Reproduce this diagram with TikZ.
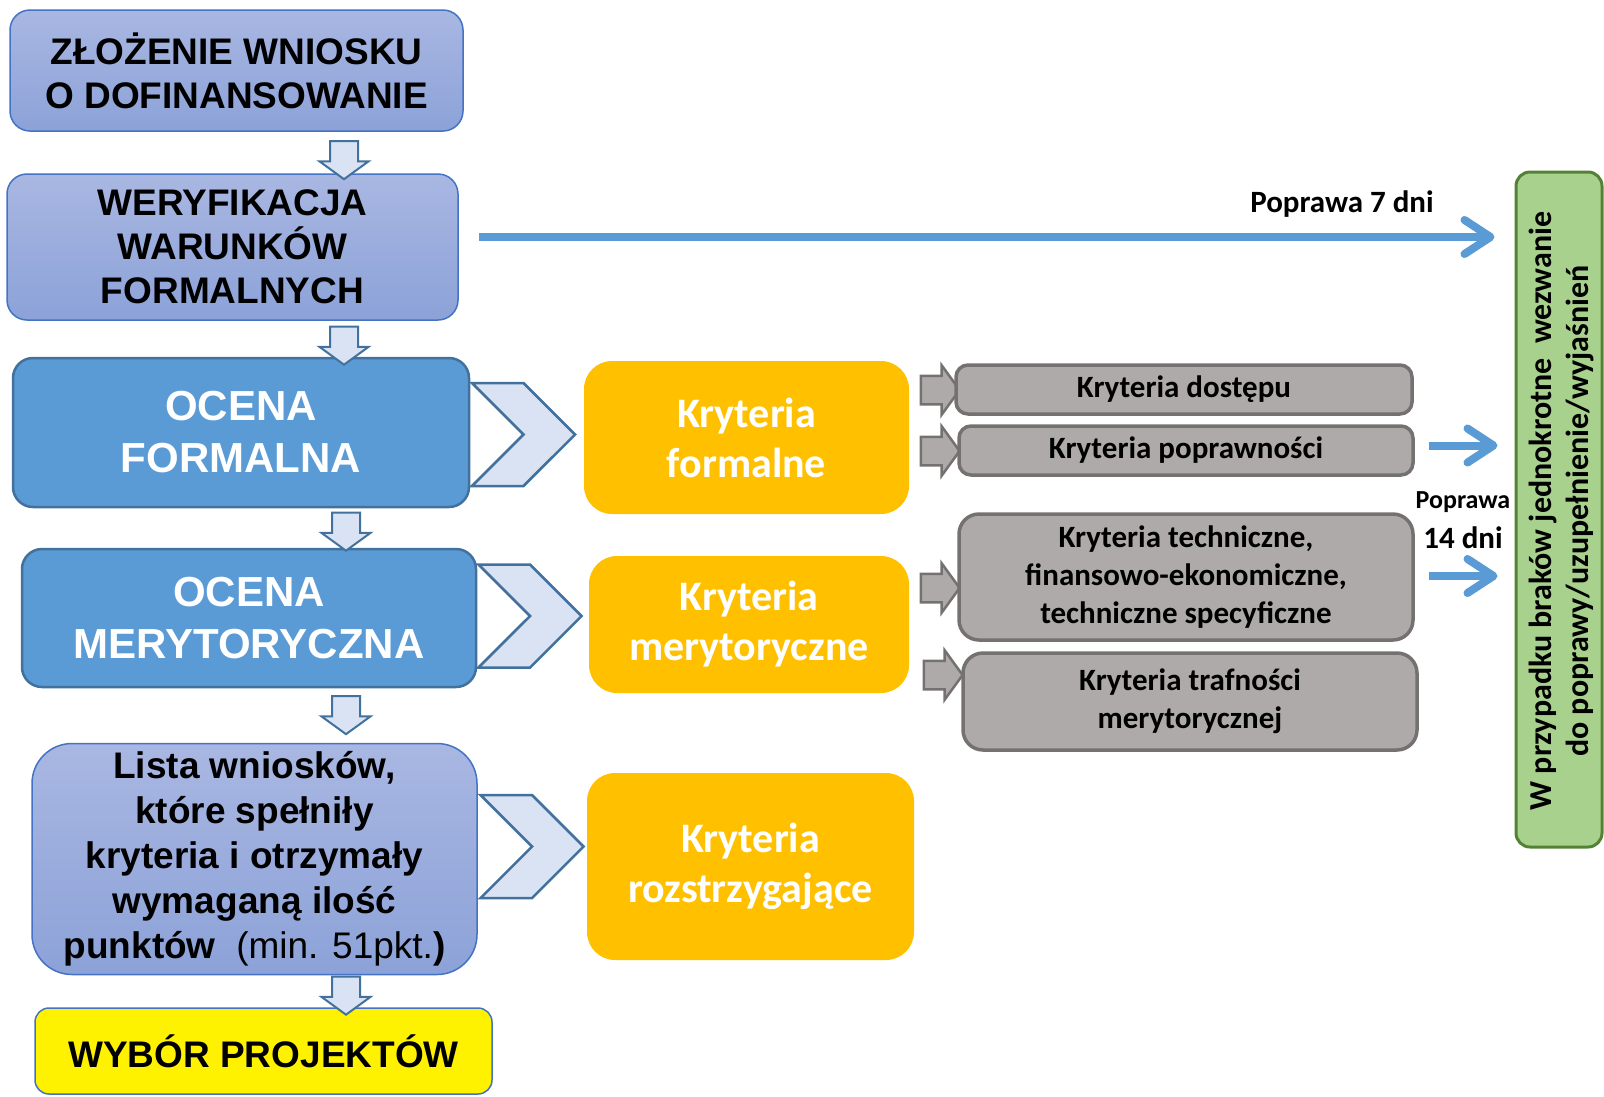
\documentclass[tikz,border=0pt]{standalone}
\usepackage{fontspec}
\setmainfont{Liberation Sans}
\newfontfamily\calfont{Carlito}
\usepackage{xcolor}
\usepackage{tikz}
\usetikzlibrary{arrows.meta}
\usetikzlibrary{calc}
\usetikzlibrary{shapes.arrows}
\usetikzlibrary{shapes.symbols}

\definecolor{lavtop}{HTML}{A9B7E2}
\definecolor{lavbot}{HTML}{8CA2D8}
\definecolor{lavedge}{HTML}{4472C4}
\definecolor{ocena}{HTML}{5B9BD5}
\definecolor{ocenaedge}{HTML}{41719C}
\definecolor{pale}{HTML}{DAE3F3}
\definecolor{krorange}{HTML}{FFC000}
\definecolor{krgray}{HTML}{AEAAAA}
\definecolor{krgrayedge}{HTML}{767171}
\definecolor{wezw}{HTML}{A9D18E}
\definecolor{wezwedge}{HTML}{548235}

\begin{document}
\begin{tikzpicture}[x=1pt,y=-1pt,
  etapbase/.style={rectangle,rounded corners=20pt,draw=lavedge,line width=1.5pt,
    align=center,inner sep=0pt,font=\fontsize{37}{44}\selectfont\bfseries},
  etap/.style={etapbase,top color=lavtop,bottom color=lavbot},
  ocenabox/.style={rectangle,rounded corners=20pt,draw=ocenaedge,line width=2.5pt,fill=ocena,text=white,
    align=center,inner sep=0pt,font=\fontsize{42}{52}\selectfont\bfseries},
  krbox/.style={rectangle,rounded corners=28pt,fill=krorange,text=white,align=center,inner sep=0pt,
    font=\calfont\fontsize{42}{50}\selectfont\bfseries},
  subbox/.style={rectangle,rounded corners=12pt,draw=krgrayedge,line width=3.5pt,fill=krgray,align=center,
    inner sep=0pt,font=\calfont\fontsize{31}{38}\selectfont\bfseries},
  downarr/.style={single arrow,shape border rotate=270,draw=ocenaedge,line width=2pt,fill=pale,inner sep=13pt,
    minimum width=0pt,minimum height=36pt,single arrow head extend=10.5pt,single arrow tip angle=108},
  grayarr/.style={single arrow,draw=krgrayedge,line width=2.5pt,fill=krgray,inner sep=13pt,
    minimum width=0pt,minimum height=35pt,single arrow head extend=10.5pt,single arrow tip angle=108},
  chevron/.style={signal,signal from=west,signal to=east,draw=ocenaedge,line width=2.5pt,fill=pale,
    inner sep=0pt,minimum width=103pt,minimum height=103pt},
  popr/.style={font=\calfont\fontsize{31}{38}\selectfont\bfseries,inner sep=0pt}]
  \useasboundingbox (0,0) rectangle (1604,1096);

  \node[etap,minimum width=453pt,minimum height=121pt] (zloz) at (236.5,70.5) {ZŁOŻENIE WNIOSKU\\O DOFINANSOWANIE};
  \node[etap,minimum width=451pt,minimum height=146pt] (wery) at (232.5,247) {WERYFIKACJA\\WARUNKÓW\\FORMALNYCH};
  \node[ocenabox,minimum width=456pt,minimum height=149pt] (ocfo) at (241,432.5) {OCENA\\FORMALNA};
  \node[ocenabox,minimum width=454pt,minimum height=138pt] (ocme) at (249,618) {OCENA\\MERYTORYCZNA};
  \node[etap,minimum width=445pt,minimum height=231pt,rounded corners=40pt,font=\fontsize{37}{45}\selectfont\bfseries] (lista) at (254.5,859)
    {Lista wniosków,\\które spełniły\\kryteria i otrzymały\\wymaganą ilość\\punktów\ \ {\mdseries(min. 51pkt.})};
  \node[etapbase,minimum width=457pt,minimum height=86pt,fill=yellow,rounded corners=14pt] (wybor) at (263.5,1051) {WYBÓR PROJEKTÓW};

  \node[downarr] (dn1) at (344,155) {};
  \node[downarr] (dn2) at (344,340.5) {};
  \node[downarr] (dn3) at (346,526.5) {};
  \node[downarr] (dn4) at (346,710) {};
  \node[downarr] (dn5) at (346,990.5) {};

  \node[chevron] (ch1) at (523.5,434.5) {};
  \node[chevron] (ch2) at (530,616) {};
  \node[chevron] (ch3) at (532,846.5) {};

  \node[krbox,minimum width=325pt,minimum height=153pt] (kfor) at (746.5,437.5) {Kryteria\\formalne};
  \node[krbox,minimum width=320pt,minimum height=137pt] (kmer) at (749,624.5) {Kryteria\\merytoryczne};
  \node[krbox,minimum width=327pt,minimum height=187pt] (kroz) at (750.5,866.5) {Kryteria\\rozstrzygające};

  \node[grayarr] (ga1) at (935,390) {};
  \node[grayarr] (ga2) at (935,451) {};
  \node[grayarr] (ga3) at (935,588) {};
  \node[grayarr] (ga4) at (938,675) {};

  \node[subbox,minimum width=456pt,minimum height=49pt] (kdos) at (1184,389.5) {Kryteria dostępu};
  \node[subbox,minimum width=454pt,minimum height=49pt] (kpop) at (1186,450.5) {Kryteria poprawności};
  \node[subbox,minimum width=454pt,minimum height=126pt,rounded corners=20pt] (ktec) at (1186,577)
    {Kryteria techniczne,\\finansowo-ekonomiczne,\\techniczne specyficzne};
  \node[subbox,minimum width=454pt,minimum height=97pt,rounded corners=20pt] (ktra) at (1190,701.5)
    {Kryteria trafności\\merytorycznej};

  \node[rectangle,rounded corners=14pt,draw=wezwedge,line width=3pt,fill=wezw,minimum width=86pt,minimum height=675pt] (wezwanie) at (1559,509.5) {};
  \node[rotate=90,align=center,inner sep=0pt,font=\calfont\fontsize{32}{37}\selectfont\bfseries] (wezwtxt) at (1561,511)
    {W przypadku braków jednokrotne\ \ wezwanie\\do poprawy/uzupełnienie/wyjaśnień};

  \node[popr] (p7) at (1342,204) {Poprawa 7 dni};
  \node[popr,font=\calfont\fontsize{26}{30}\selectfont\bfseries] (p14a) at (1463,502) {Poprawa};
  \node[popr] (p14b) at (1463,538) {14 dni};

  \path[color=ocena,line width=8pt,-{Straight Barb[length=26pt,width=34pt,round]}]
    ($(wery.east)+(20,-10)$) edge ($(wery.east -| wezwanie.west)+(-20,-10)$)
    ($(kpop.east)+(14,-5)$) edge ($(kpop.east -| wezwanie.west)+(-17,-5)$)
    ($(ktec.east)+(14,-1)$) edge ($(ktec.east -| wezwanie.west)+(-17,-1)$);
\end{tikzpicture}
\end{document}
